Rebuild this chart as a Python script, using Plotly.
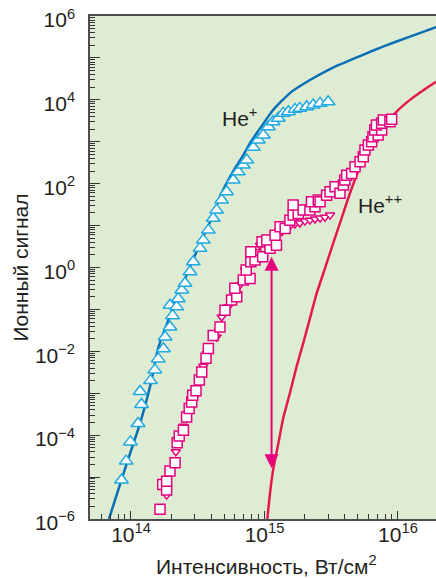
import numpy as np
import plotly.graph_objects as go

# ---------------- data ----------------
# He+ experimental (triangles)
he1_x = [8.5e13, 9.2e13, 9.9e13, 1.13e14, 1.2e14, 1.17e14, 1.40e14, 1.51e14, 1.60e14, 1.75e14,
         1.80e14, 1.96e14, 2.05e14, 1.96e14, 2.2e14, 2.26e14, 2.4e14, 2.54e14, 2.77e14, 2.93e14,
         3.29e14, 3.48e14, 3.8e14, 4.13e14, 4.38e14, 4.78e14, 5.2e14, 5.84e14, 6.36e14, 6.94e14,
         7.36e14, 8.25e14, 9.0e14, 9.8e14, 1.07e15, 1.16e15, 1.27e15, 1.38e15, 1.51e15, 1.69e15,
         1.84e15, 2.07e15, 2.32e15, 2.61e15, 3.0e15]
he1_y = [8.5e-6, 2.4e-5, 6.9e-5, 1.9e-4, 5.4e-4, 1.1e-3, 2.0e-3, 3.6e-3, 6.6e-3, 1.15e-2,
         2.2e-2, 3.8e-2, 7.1e-2, 0.126, 0.115, 0.18, 0.29, 0.42, 0.79, 1.37,
         2.86, 4.5, 7.8, 14.9, 23.4, 40.6, 64, 122, 192, 278,
         366, 735, 1100, 1445, 2280, 3000, 3630, 4760, 5200, 5930,
         6270, 6840, 7500, 8250, 9000]

# He++ experimental, squares
he2_sq_x = [1.65e14, 1.73e14, 1.85e14, 1.85e14, 1.96e14, 2.14e14, 2.22e14, 2.30e14, 2.47e14, 2.61e14,
            2.73e14, 2.85e14, 2.90e14, 3.07e14, 3.25e14, 3.39e14, 3.65e14, 3.8e14, 4.13e14, 4.64e14,
            5.06e14, 5.67e14, 6.2e14, 6.0e14, 6.94e14, 7.8e14, 7.3e14, 7.9e14, 8.5e14, 7.9e14,
            9.7e14, 9.6e14, 1.1e15, 1.04e15, 1.23e15, 1.2e15, 1.31e15, 1.43e15, 1.55e15, 1.64e15,
            1.79e15, 1.95e15, 1.64e15, 2.19e15, 2.39e15, 2.25e15, 2.53e15, 2.61e15, 2.92e15, 3.1e15,
            3.38e15, 3.68e15, 3.9e15, 4.0e15, 4.13e15, 4.5e15, 4.77e15, 5.2e15, 5.5e15, 5.66e15,
            6.0e15, 6.35e15, 6.5e15, 7.1e15, 6.7e15, 7.55e15, 6.9e15, 7.55e15, 7.77e15, 8.7e15,
            8.97e15]
he2_sq_y = [1.7e-6, 6.6e-6, 4.9e-6, 7.9e-6, 1.4e-5, 2.2e-5, 6.6e-5, 9.5e-5, 1.3e-4, 2.7e-4,
            4.3e-4, 6.2e-4, 9.0e-4, 1.14e-3, 2.06e-3, 3.2e-3, 6.8e-3, 1.17e-2, 2.4e-2, 3.8e-2,
            9.6e-2, 0.167, 0.2, 0.32, 0.5, 0.55, 0.87, 1.37, 1.5, 2.37,
            1.8, 4.1, 2.86, 4.5, 3.4, 5.9, 9.4, 8.5, 13.5, 17.8,
            19.5, 23.4, 30.8, 23.4, 28, 37, 40.6, 37, 53, 64,
            84, 59, 93, 122, 160, 176, 253, 333, 438, 634,
            834, 1000, 1318, 1445, 1900, 1900, 2510, 2750, 3300, 3000,
            3430]

# He++ experimental, down-triangles
he2_td_x = [1.85e14, 1.94e14, 2.14e14, 2.17e14, 2.32e14, 2.47e14, 2.62e14, 2.75e14, 2.95e14, 3.25e14,
            3.48e14, 3.7e14, 4.38e14, 4.78e14, 5.36e14, 6.0e14, 6.55e14, 7.15e14, 7.78e14, 8.73e14,
            9.25e14, 1.04e15, 1.13e15, 1.2e15, 1.35e15, 1.43e15, 1.55e15, 1.69e15, 1.84e15, 2.01e15,
            2.19e15, 2.39e15, 2.61e15, 2.84e15, 3.1e15]
he2_td_y = [3.7e-6, 1.33e-5, 2.3e-5, 4.0e-5, 8.5e-5, 1.64e-4, 2.6e-4, 4.1e-4, 7.5e-4, 1.8e-3,
            4.4e-3, 8.9e-3, 2.2e-2, 6.6e-2, 0.115, 0.29, 0.38, 0.87, 1.25, 2.37,
            3.4, 3.4, 4.5, 5.9, 7.1, 8.5, 9.7, 10.9, 11.5, 12.8,
            13.5, 14.3, 15.1, 15.9, 17.8]

# He+ theory (curve)
he1_th_x = [6.84e13, 7.59e13, 9.29e13, 1.17e14, 1.4e14, 1.6e14, 1.96e14, 2.4e14, 2.93e14, 3.48e14,
            4.13e14, 4.64e14, 5.84e14, 6.94e14, 7.79e14, 9.75e14, 1.16e15, 1.55e15, 2.19e15, 3.26e15,
            5.19e15, 7.73e15, 1.23e16, 1.93e16]
he1_th_y = [1e-6, 2.8e-6, 2.1e-5, 1.9e-4, 1.6e-3, 1.2e-2, 0.07, 0.35, 1.6, 5.5,
            18, 49, 200, 480, 931, 2640, 5710, 14500, 29700, 59000,
            1.11e5, 1.87e5, 3.24e5, 5.46e5]

# He++ theory (curve)
he2_th_x = [1.05e15, 1.10e15, 1.16e15, 1.27e15, 1.38e15, 1.55e15, 1.74e15, 1.95e15, 2.19e15, 2.46e15,
            2.84e15, 3.27e15, 3.78e15, 4.37e15, 5.19e15, 6.0e15, 6.92e15, 8.22e15, 9.77e15, 1.23e16,
            1.55e16, 1.93e16]
he2_th_y = [1e-6, 4.1e-6, 1.46e-5, 6.3e-5, 2.5e-4, 1e-3, 4.3e-3, 1.55e-2, 6.1e-2, 0.24,
            0.95, 3.76, 14.9, 59, 251, 631, 1320, 2750, 5250, 1e4,
            1.7e4, 2.7e4]

# arrow (intensity, lower and upper signal)
arrow_x = 1.13e15
arrow_y_low = 1.5e-5
arrow_y_high = 1.8

labels = ["He<sup>+</sup>", "He<sup>++</sup>"]
label_x = [6.55e14, 7.3e15]
label_y = [3900, 33]

x_tickvals = [1e14, 1e15, 1e16]
x_ticktext = ["10<sup>14</sup>", "10<sup>15</sup>", "10<sup>16</sup>"]
y_tickvals = [1e-6, 1e-5, 1e-4, 1e-3, 1e-2, 1e-1, 1, 1e1, 1e2, 1e3, 1e4, 1e5, 1e6]
y_ticktext = ["10<sup>−6</sup>", "", "10<sup>−4</sup>", "", "10<sup>−2</sup>", "", "10<sup>0</sup>", "",
              "10<sup>2</sup>", "", "10<sup>4</sup>", "", "10<sup>6</sup>"]

x_title = "Интенсивность, Вт/см<sup>2</sup>"
y_title = "Ионный сигнал"

# ---------------- figure ----------------
BLUE_LINE = "#0b6fb5"
BLUE_MARK = "#1fa8e2"
MAGENTA = "#e6007e"
RED = "#e5194d"
TXT = "#231f20"
FONT = "Liberation Sans, Arial, sans-serif"
FS = 21

fig = go.Figure()

fig.add_trace(go.Scatter(x=he1_th_x, y=he1_th_y, mode="lines",
                         line=dict(color=BLUE_LINE, width=2.5, shape="spline", smoothing=0.5),
                         showlegend=False, hoverinfo="skip"))
fig.add_trace(go.Scatter(x=he2_th_x, y=he2_th_y, mode="lines",
                         line=dict(color=RED, width=2.5, shape="spline", smoothing=0.5),
                         showlegend=False, hoverinfo="skip"))
fig.add_trace(go.Scatter(x=he1_x, y=he1_y, mode="markers",
                         marker=dict(symbol="triangle-up", size=12, color="white", line=dict(color=BLUE_MARK, width=1.5)),
                         showlegend=False))
fig.add_trace(go.Scatter(x=he2_td_x, y=he2_td_y, mode="markers",
                         marker=dict(symbol="triangle-down", size=8, color="white", line=dict(color=MAGENTA, width=1.5)),
                         showlegend=False))
fig.add_trace(go.Scatter(x=he2_sq_x, y=he2_sq_y, mode="markers",
                         marker=dict(symbol="square", size=10, color="white", line=dict(color=MAGENTA, width=1.5)),
                         showlegend=False))

# double-headed arrow
fig.add_annotation(x=np.log10(arrow_x), y=np.log10(arrow_y_high), ax=np.log10(arrow_x), ay=np.log10(arrow_y_low),
                   xref="x", yref="y", axref="x", ayref="y", text="", showarrow=True,
                   arrowhead=2, startarrowhead=2, arrowside="end+start", arrowsize=1.4, startarrowsize=1.4,
                   arrowwidth=2, arrowcolor=MAGENTA)

for t, lx, ly in zip(labels, label_x, label_y):
    fig.add_annotation(x=np.log10(lx), y=np.log10(ly), xref="x", yref="y", text=t, showarrow=False,
                       font=dict(family=FONT, size=FS, color=TXT))

# axis titles
fig.add_annotation(x=0.509, y=-0.091, xref="paper", yref="paper", text=x_title, showarrow=False,
                   xanchor="center", yanchor="middle", font=dict(family=FONT, size=FS, color=TXT))
fig.add_annotation(x=-0.2023, y=0.5, xref="paper", yref="paper", text=y_title, showarrow=False, textangle=-90,
                   xanchor="center", yanchor="middle", font=dict(family=FONT, size=FS, color=TXT))

fig.update_layout(
    width=436, height=578,
    margin=dict(l=90, r=0, t=16, b=59, autoexpand=False),
    paper_bgcolor="white", plot_bgcolor="#dfecd4",
    font=dict(family=FONT, size=FS, color=TXT),
    showlegend=False,
)
fig.update_xaxes(type="log", range=[13.693, 16.285], tickmode="array", tickvals=x_tickvals, ticktext=x_ticktext,
                 automargin=False, showgrid=False, zeroline=False,
                 showline=True, linecolor="#4d4d4d", linewidth=1.5, mirror=True,
                 ticks="inside", ticklen=8, tickwidth=1.2, tickcolor="#333", ticklabelstandoff=-4,
                 ticklabeloverflow="allow",
                 minor=dict(ticks="inside", ticklen=5, dtick="D1", tickcolor="#333", tickwidth=1, showgrid=False),
                 tickfont=dict(size=FS))
fig.update_yaxes(type="log", range=[-6.001, 6.001], tickmode="array", tickvals=y_tickvals, ticktext=y_ticktext,
                 automargin=False, showgrid=False, zeroline=False,
                 showline=True, linecolor="#4d4d4d", linewidth=1.5,
                 ticks="inside", ticklen=10, tickwidth=1.2, tickcolor="#333", ticklabelstandoff=9,
                 ticklabelshift=4, ticklabeloverflow="allow",
                 minor=dict(ticks="inside", ticklen=5, dtick="D1", tickcolor="#333", tickwidth=1, showgrid=False),
                 tickfont=dict(size=FS))

fig.write_html("out.html", config={"displayModeBar": False},
               post_script="document.body.style.margin='0';document.body.style.overflow='hidden';")
